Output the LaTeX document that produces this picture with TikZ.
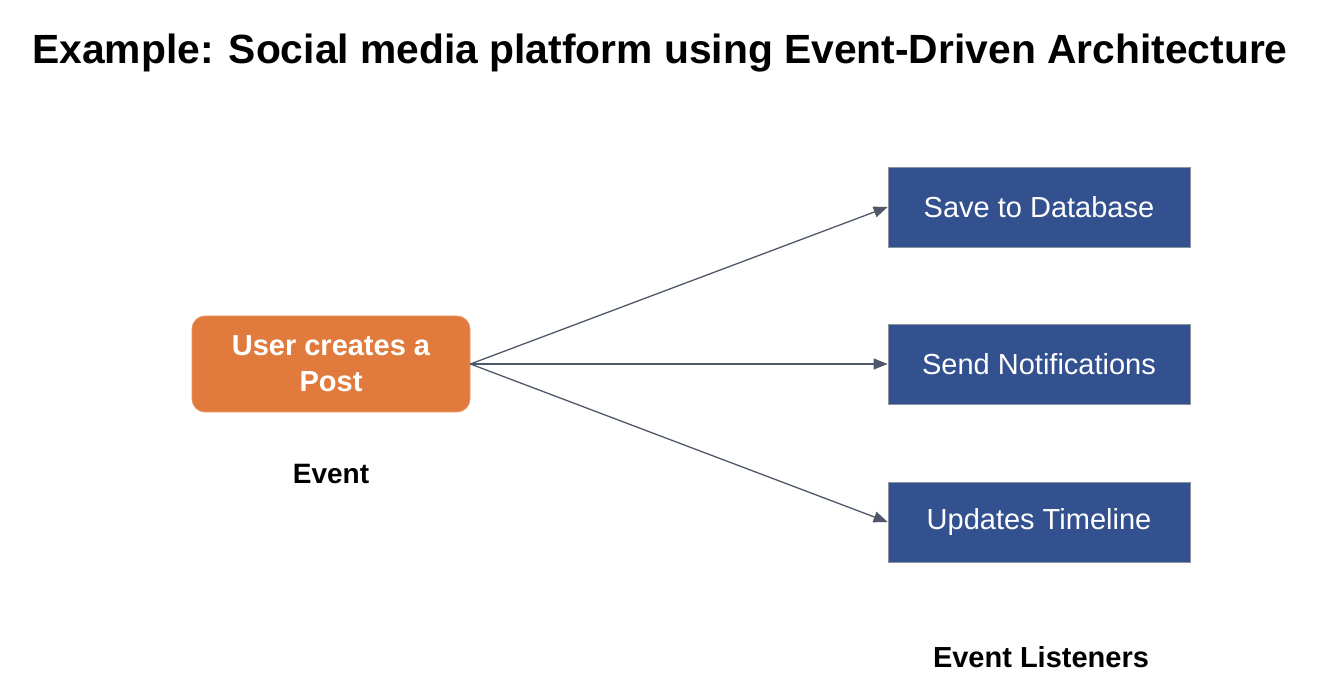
\documentclass[tikz,border=0pt]{standalone}
\usepackage{fontspec}
\setmainfont{Liberation Sans}
\usetikzlibrary{arrows.meta}
\definecolor{evorange}{HTML}{E07B3D}
\definecolor{evblue}{HTML}{34518F}
\definecolor{evline}{HTML}{4E5869}
\definecolor{evborder}{HTML}{8A93A3}
\begin{document}
\begin{tikzpicture}[x=1pt,y=-1pt,
  listener/.style={draw=evborder, line width=0.8pt, fill=evblue, text=white,
    minimum width=302pt, minimum height=80pt, inner sep=0pt,
    font=\fontsize{29}{34}\selectfont},
  eventbox/.style={draw=evorange!80!white, line width=0.8pt, fill=evorange, text=white,
    rounded corners=13pt, minimum width=278pt, minimum height=96pt, inner sep=0pt,
    align=center, font=\fontsize{29}{36}\selectfont\bfseries},
  caption/.style={font=\fontsize{28}{32}\selectfont\bfseries, inner sep=0pt, anchor=base},
  conn/.style={draw=evline, line width=1.3pt, -{Triangle[length=14pt,width=11pt]}}
]
\useasboundingbox (0,0) rectangle (1318,700);
\node[font=\fontsize{40.8}{46}\selectfont\bfseries, inner sep=0pt, anchor=base] (title) at (660,64)
  {Example: Social media platform using Event-Driven Architecture};
\node[eventbox] (post) at (331,364) {User creates a\\Post};
\node[listener] (save) at (1039,207) {Save to Database};
\node[listener] (send) at (1039,364) {Send Notifications};
\node[listener] (upd) at (1039,522) {Updates Timeline};
\node[caption] (evlab) at (331,484) {Event};
\node[caption, font=\fontsize{29}{32}\selectfont\bfseries] (lislab) at (1041,667) {Event Listeners};
\draw[conn] (post.east) -- (save.west);
\draw[conn] (post.east) -- (send.west);
\draw[conn] (post.east) -- (upd.west);
\end{tikzpicture}
\end{document}
